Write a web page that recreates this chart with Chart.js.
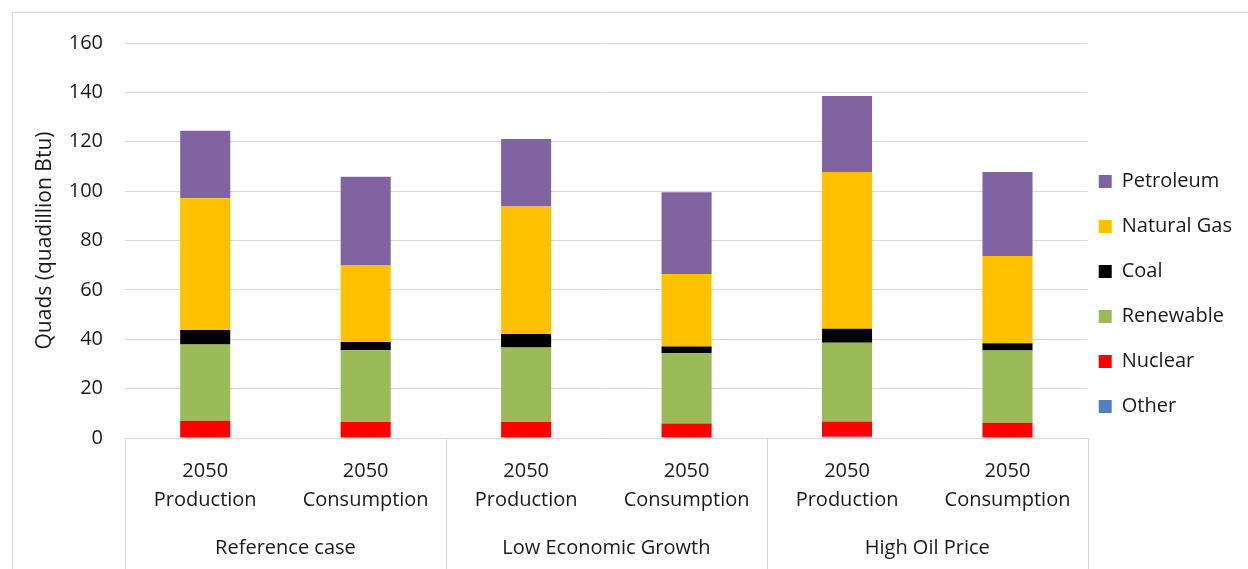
<!DOCTYPE html>
<html>
<head>
<meta charset="utf-8">
<script src="https://cdn.jsdelivr.net/npm/chart.js@4/dist/chart.umd.min.js"></script>
<style>
  html, body { margin:0; padding:0; background:#fff; overflow:hidden; }
  #wrap { position:relative; width:1248px; height:569px; overflow:hidden; }
  #frame { position:absolute; left:12px; top:12px; width:1400px; height:800px; border:1px solid #d9d9d9; }
  #chart { position:absolute; left:0; top:0; }
</style>
</head>
<body>
<div id="wrap">
  <div id="frame"></div>
  <canvas id="chart" width="1248" height="577"></canvas>
</div>
<script>
// categories (two-line labels) and the scenario groups they sit under
const categories = [
  ["2050","Production"], ["2050","Consumption"],
  ["2050","Production"], ["2050","Consumption"],
  ["2050","Production"], ["2050","Consumption"]
];
const groups = ["Reference case","Low Economic Growth","High Oil Price"];

// quads by fuel, stacked bottom to top
const other      = [0.2, 0,    0.2, 0,    0.5, 0];
const nuclear    = [6.8, 6.5,  6.3, 5.9,  6.2, 6.2];
const renewable  = [30.9, 29.0, 30.2, 28.4, 31.9, 29.2];
const coal       = [5.8, 3.4,  5.4, 2.8,  5.7, 3.0];
const naturalGas = [53.4, 31.0, 51.7, 29.3, 63.4, 35.3];
const petroleum  = [27.4, 35.9, 27.3, 33.1, 30.8, 34.0];

const yMin = 0, yMax = 160, yStep = 20;

const FONT = "'Open Sans', sans-serif";
const TXT = "#1a1a1a";
const GRID = "#d9d9d9";

// vertical separators between scenario groups, below the axis
const groupLines = {
  id: "groupLines",
  afterDraw(chart){
    const xs = chart.scales.x, ctx = chart.ctx;
    ctx.save();
    ctx.strokeStyle = GRID; ctx.lineWidth = 1;
    for (let i = 0; i <= categories.length; i += 2){
      const px = Math.round(xs.getPixelForValue(i - 0.5)) + 0.5;
      ctx.beginPath();
      ctx.moveTo(px, chart.chartArea.bottom);
      ctx.lineTo(px, chart.height);
      ctx.stroke();
    }
    ctx.restore();
  }
};

// nudge legend block next to the plot
const legendNudge = {
  id: "legendNudge",
  afterLayout(chart){
    const lg = chart.legend;
    if (!lg) return;
    const dx = -14, dy = -9;
    lg.left += dx; lg.right += dx;
    lg.top += dy; lg.bottom += dy;
  }
};

const ds = (label, data, color) => ({ label, data, backgroundColor: color, borderWidth: 0 });

const tickFont = { family: FONT, size: 20, lineHeight: 1.45 };

new Chart(document.getElementById("chart"), {
  type: "bar",
  data: {
    labels: categories,
    datasets: [
      ds("Other", other, "#4F81BD"),
      ds("Nuclear", nuclear, "#FF0000"),
      ds("Renewable", renewable, "#9BBB59"),
      ds("Coal", coal, "#000000"),
      ds("Natural Gas", naturalGas, "#FFC000"),
      ds("Petroleum", petroleum, "#8064A2")
    ]
  },
  options: {
    responsive: false,
    animation: false,
    layout: { padding: { top: 43, right: -8, bottom: 14, left: 0 } },
    datasets: { bar: { barPercentage: 0.312, categoryPercentage: 1 } },
    plugins: {
      tooltip: { enabled: false },
      legend: {
        position: "right",
        reverse: true,
        labels: {
          boxWidth: 13, boxHeight: 13, padding: 25,
          color: TXT, font: { family: FONT, size: 20 }
        }
      }
    },
    scales: {
      x: {
        stacked: true,
        grid: { display: false, drawTicks: false },
        border: { display: false },
        ticks: { color: TXT, padding: 19, maxRotation: 0, autoSkip: false, font: tickFont }
      },
      xg: {
        type: "category",
        labels: groups,
        position: "bottom",
        offset: true,
        grid: { display: false, drawTicks: false },
        border: { display: false },
        ticks: { color: TXT, padding: 0, maxRotation: 0, autoSkip: false, font: tickFont }
      },
      y: {
        stacked: true,
        min: yMin, max: yMax,
        grid: { color: GRID, lineWidth: 1, drawTicks: false },
        border: { display: false },
        ticks: {
          stepSize: yStep, color: TXT, padding: 22,
          font: { family: FONT, size: 20 }
        },
        title: {
          display: true, text: "Quads (quadillion Btu)", color: TXT,
          font: { family: FONT, size: 21 }, padding: { top: 32, bottom: 0 }
        },
        afterFit(scale){ scale.width = 125; }
      }
    }
  },
  plugins: [groupLines, legendNudge]
});
</script>
</body>
</html>
